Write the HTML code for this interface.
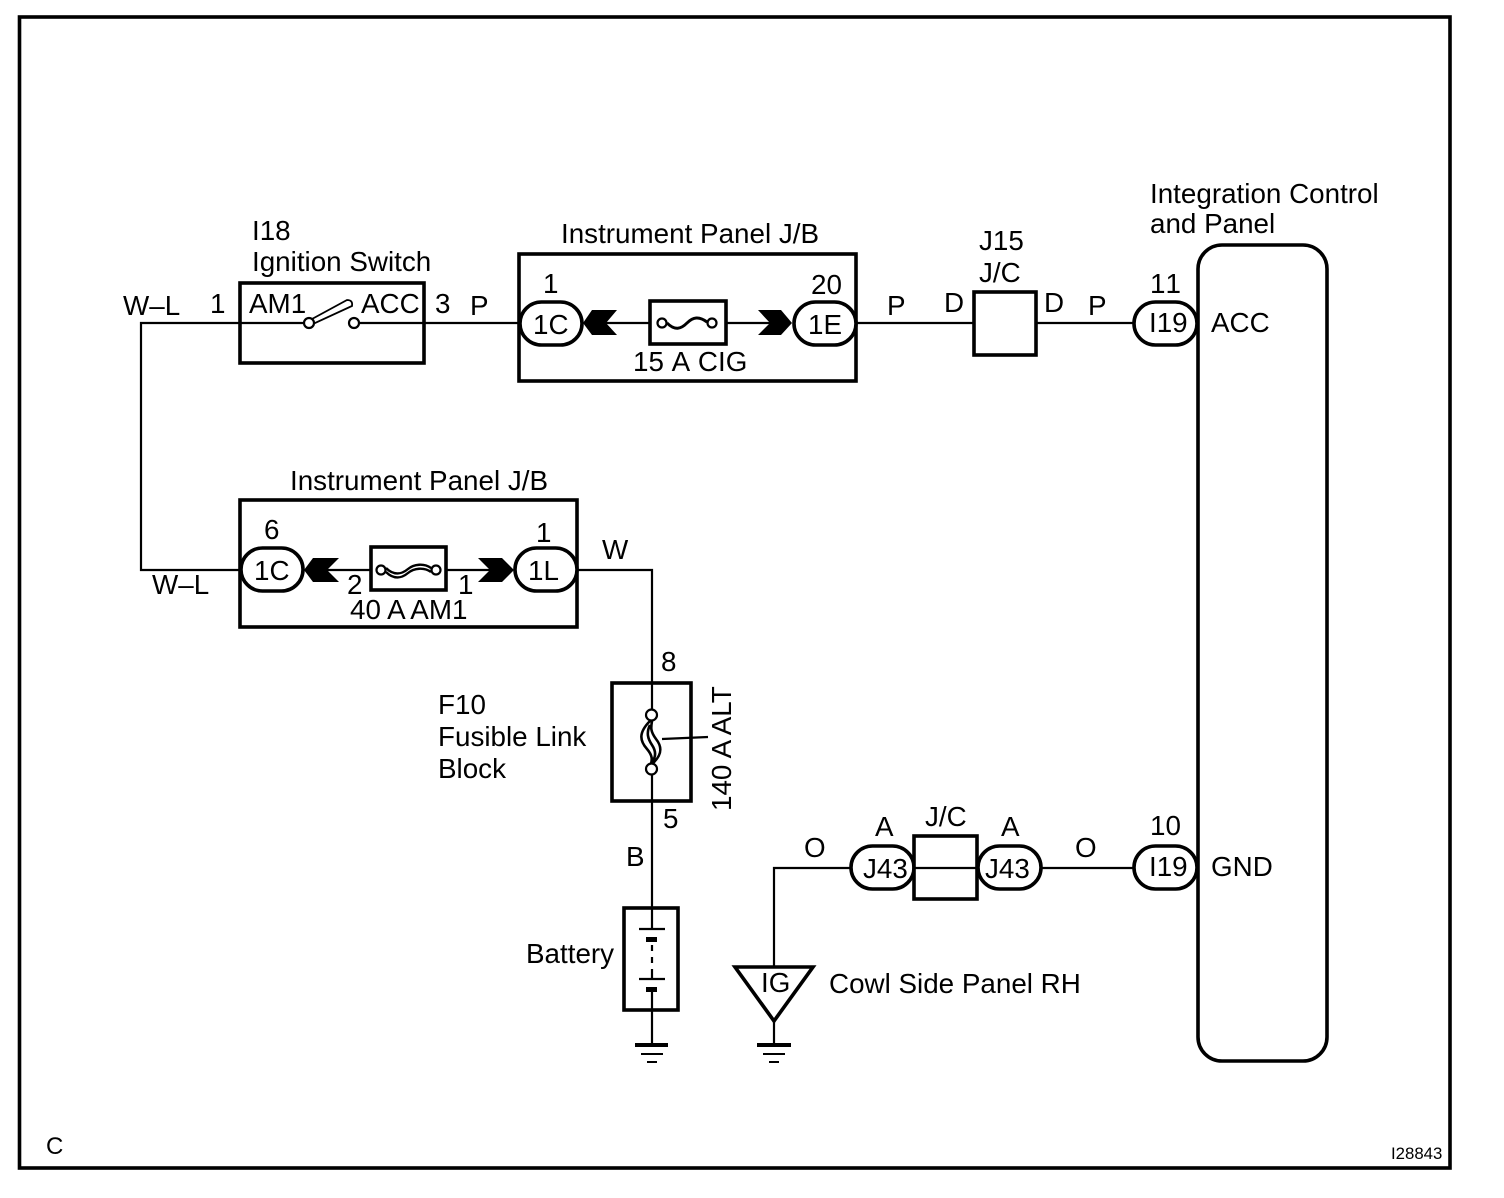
<!DOCTYPE html>
<html><head><meta charset="utf-8"><style>
html,body{margin:0;padding:0;background:#fff;width:1504px;height:1198px;overflow:hidden}
svg{display:block}
text{font-family:"Liberation Sans",Arial,sans-serif;font-size:27.8px;fill:#000;font-kerning:none}
.b{fill:none;stroke:#000;stroke-width:3.6}
.w{fill:none;stroke:#000;stroke-width:2.2}
.p{fill:#fff;stroke:#000;stroke-width:3.6}
.c{fill:#fff;stroke:#000;stroke-width:2.2}
.f{fill:#000;stroke:none}
</style></head><body>
<svg width="1504" height="1198" viewBox="0 0 1504 1198" xmlns="http://www.w3.org/2000/svg">
<rect x="19.500" y="17" width="1430.500" height="1151" class="b"/>

<!-- wires -->
<path class="w" d="M240 323H141V570H240"/>
<path class="w" d="M240 323H305M359 323H519"/>
<path class="w" d="M606 323H650M726 323H770M856 323H974M1036 323H1134"/>
<path class="w" d="M327 570H371M446 570H490M577 570H652V908"/>
<path class="w" d="M652 1010V1045M774 966V868H851M774 1022V1045M1041 868H1134"/>

<!-- Ignition switch -->
<rect x="240" y="283" width="184" height="80" class="b"/>
<path d="M312 319L347 300Q353 300 352 306L313 324Z" fill="#fff" stroke="#000" stroke-width="1.8"/>
<circle cx="309" cy="323" r="5" class="c"/><circle cx="354" cy="323" r="5" class="c"/>

<!-- J/B top -->
<rect x="519" y="254" width="337" height="127" class="b"/>
<rect x="650" y="301" width="76" height="43" class="b"/>
<path d="M667 323C675 331 681 329 687 323C693 317 699 316 707 322" fill="none" stroke="#000" stroke-width="3"/>
<circle cx="662" cy="323" r="4.500" class="c"/><circle cx="712" cy="323" r="4.500" class="c"/>
<path class="f" d="M583 323L592 310H617L606 323L617 335H592Z"/>
<path class="f" d="M792 323L781 310H758L770 323L758 335H781Z"/>
<rect x="520" y="302" width="62" height="43" rx="21.500" class="p"/>
<rect x="794" y="302" width="62" height="43" rx="21.500" class="p"/>

<!-- J15 -->
<rect x="974" y="292" width="62" height="63" class="p"/>

<!-- Integration panel -->
<rect x="1198" y="245" width="129" height="816" rx="24" class="b"/>
<rect x="1134" y="302" width="63" height="43" rx="21.500" class="p"/>
<rect x="1134" y="846" width="63" height="43" rx="21.500" class="p"/>

<!-- J/B lower -->
<rect x="240" y="500" width="337" height="127" class="b"/>
<rect x="371" y="547" width="75" height="43" class="b"/>
<path d="M386 568C394 576 402 574 408 569C414 564 424 563 431 568M386 572C394 580 402 578 408 573C414 568 424 567 431 572" fill="none" stroke="#000" stroke-width="2.400"/>
<circle cx="381" cy="570" r="4.500" class="c"/><circle cx="436" cy="570" r="4.500" class="c"/>
<path class="f" d="M304 570L313 558H339L327 570L339 582H313Z"/>
<path class="f" d="M514 570L502 558H478L490 570L478 582H502Z"/>
<rect x="241" y="548" width="62" height="43" rx="21.500" class="p"/>
<rect x="515" y="548" width="62" height="43" rx="21.500" class="p"/>

<!-- Fusible link -->
<rect x="612" y="683" width="79" height="118" class="p"/>
<path class="w" d="M652 683V710M652 774V801M662 739L708 737"/>
<path d="M650 721C638 733 640 741 647 749C653 756 652 760 651 764M652 721C651 727 650 731 656 739C664 749 660 757 652 764M650 725C646 733 648 739 652 745C656 751 656 757 652 762" fill="none" stroke="#000" stroke-width="2.600"/>
<circle cx="651.500" cy="715" r="5.500" class="c"/><circle cx="651.500" cy="769" r="5.500" class="c"/>

<!-- Battery -->
<rect x="624" y="908" width="54" height="102" class="p"/>
<path class="w" d="M652 908V929M639 929H665M639 979H665M652 989V1010"/>
<path class="f" d="M646 937h11v5h-11zM646 987h11v5h-11z"/>
<path class="w" d="M652 945V951M652 957V963M652 969V979"/>

<!-- Grounds -->
<path class="f" d="M635 1043h33v4h-33zM641 1053h22v2h-22zM647 1061h10v2h-10z"/>
<path class="f" d="M757 1043h34v4h-34zM763 1053h22v2h-22zM769 1061h10v2h-10z"/>

<!-- IG triangle -->
<path d="M735 967H813L774 1021Z" fill="#fff" stroke="#000" stroke-width="3.600"/>

<!-- J43 -->
<rect x="851" y="846" width="63" height="43" rx="21.500" class="p"/>
<rect x="978" y="846" width="63" height="43" rx="21.500" class="p"/>
<rect x="914" y="836" width="63" height="63" class="p"/>
<path class="w" d="M914 868H977"/>

<!-- labels -->
<text x="252" y="240">I18</text>
<text x="252" y="271">Ignition Switch</text>
<text x="123" y="315">W–L</text>
<text x="210" y="313">1</text>
<text x="249" y="313">AM1</text>
<text x="361" y="313">ACC</text>
<text x="435" y="313">3</text>
<text x="470" y="315">P</text>
<text x="561" y="243">Instrument Panel J/B</text>
<text x="543" y="293">1</text>
<text x="533" y="334">1C</text>
<text x="811" y="294">20</text>
<text x="808" y="334">1E</text>
<text x="633" y="371">15 A CIG</text>
<text x="887" y="315">P</text>
<text x="944" y="312">D</text>
<text x="979" y="250">J15</text>
<text x="979" y="282">J/C</text>
<text x="1044" y="312">D</text>
<text x="1088" y="315">P</text>
<text x="1150" y="293">11</text>
<text x="1149" y="332">I19</text>
<text x="1150" y="203">Integration Control</text>
<text x="1150" y="233">and Panel</text>
<text x="1211" y="332">ACC</text>
<text x="290" y="490">Instrument Panel J/B</text>
<text x="264" y="539">6</text>
<text x="254" y="580">1C</text>
<text x="536" y="542">1</text>
<text x="528" y="580">1L</text>
<text x="347" y="594">2</text>
<text x="458" y="594">1</text>
<text x="350" y="619" style="font-kerning:normal">40 A AM1</text>
<text x="152" y="594">W–L</text>
<text x="602" y="559">W</text>
<text x="661" y="671">8</text>
<text x="438" y="714">F10</text>
<text x="438" y="746">Fusible Link</text>
<text x="438" y="778">Block</text>
<text x="663" y="828">5</text>
<text x="626" y="866">B</text>
<text transform="translate(731 811) rotate(-90)" style="font-kerning:normal">140 A ALT</text>
<text x="526" y="963">Battery</text>
<text x="761" y="992">IG</text>
<text x="829" y="993">Cowl Side Panel RH</text>
<text x="804" y="857">O</text>
<text x="875" y="836">A</text>
<text x="863" y="878">J43</text>
<text x="925" y="826">J/C</text>
<text x="1001" y="836">A</text>
<text x="985" y="878">J43</text>
<text x="1075" y="857">O</text>
<text x="1150" y="835">10</text>
<text x="1149" y="876">I19</text>
<text x="1211" y="876">GND</text>
<text x="46" y="1154" style="font-size:24px">C</text>
<text x="1391" y="1159" style="font-size:16.800px">I28843</text>
</svg>
</body></html>
